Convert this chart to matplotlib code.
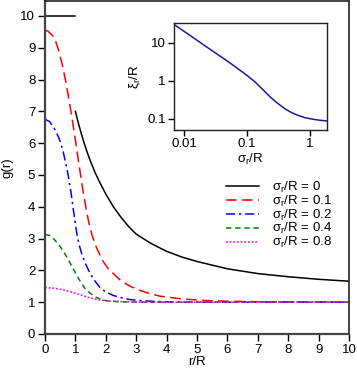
import matplotlib
matplotlib.use("Agg")
import matplotlib.pyplot as plt

plt.rcParams['font.family'] = ['Liberation Sans', 'DejaVu Sans']
plt.rcParams['mathtext.fontset'] = 'custom'
plt.rcParams['mathtext.rm'] = 'Liberation Sans'
plt.rcParams['mathtext.it'] = 'Liberation Sans'
FS = 9.5
plt.rcParams['font.size'] = FS

# ---- main panel data: g(r) vs r/R ----
r_s0_inner = [0.0, 1.0]
g_s0_inner = [10.0, 10.0]
r_s0 = [1.0, 1.1, 1.2, 1.3, 1.4, 1.5, 1.65, 1.8, 2.0, 2.25, 2.5, 2.75, 3.0, 3.5, 4.0, 4.5, 5.0, 6.0, 7.0, 8.0, 9.0, 10.0]
g_s0 = [7.0, 6.62, 6.28, 5.97, 5.68, 5.42, 5.07, 4.77, 4.40, 4.00, 3.67, 3.38, 3.14, 2.84, 2.60, 2.42, 2.28, 2.05, 1.90, 1.80, 1.72, 1.66]

r_s01 = [0.0, 0.1, 0.25, 0.35, 0.44, 0.58, 0.69, 0.8, 0.9, 1.0, 1.13, 1.25, 1.35, 1.43, 1.55, 1.7, 1.9, 2.08, 2.47, 2.8, 3.13, 3.45, 3.78, 4.44, 5.1, 6.0, 7.0, 8.0, 10.0]
g_s01 = [9.55, 9.52, 9.38, 9.2, 8.95, 8.42, 7.9, 7.3, 6.72, 6.1, 5.25, 4.5, 3.95, 3.55, 3.1, 2.7, 2.3, 2.05, 1.70, 1.50, 1.37, 1.27, 1.19, 1.11, 1.06, 1.03, 1.015, 1.01, 1.0]

r_s02 = [0.0, 0.15, 0.33, 0.45, 0.52, 0.6, 0.66, 0.72, 0.77, 0.86, 0.93, 1.0, 1.06, 1.13, 1.21, 1.32, 1.43, 1.6, 1.81, 2.0, 2.25, 2.47, 2.75, 3.0, 3.5, 4.0, 5.0, 10.0]
g_s02 = [6.75, 6.68, 6.42, 6.18, 6.0, 5.72, 5.47, 5.2, 4.95, 4.42, 3.93, 3.45, 3.08, 2.78, 2.52, 2.23, 2.01, 1.72, 1.46, 1.32, 1.21, 1.15, 1.09, 1.06, 1.03, 1.01, 1.0, 1.0]

r_s04 = [0.0, 0.15, 0.3, 0.5, 0.7, 0.9, 1.1, 1.3, 1.5, 1.65, 1.8, 2.0, 2.2, 2.6, 3.2, 10.0]
g_s04 = [3.13, 3.1, 2.98, 2.75, 2.45, 2.1, 1.75, 1.45, 1.27, 1.17, 1.1, 1.05, 1.03, 1.01, 1.0, 1.0]

r_s08 = [0.0, 0.3, 0.6, 0.9, 1.2, 1.5, 1.8, 2.2, 2.8, 3.5, 10.0]
g_s08 = [1.46, 1.44, 1.39, 1.31, 1.22, 1.13, 1.07, 1.03, 1.01, 1.0, 1.0]

labels = ['σ$_\\mathrm{r}$/R = 0', 'σ$_\\mathrm{r}$/R = 0.1', 'σ$_\\mathrm{r}$/R = 0.2',
          'σ$_\\mathrm{r}$/R = 0.4', 'σ$_\\mathrm{r}$/R = 0.8']

# ---- inset data: xi_r/R vs sigma_r/R ----
sigma_in = [0.0069, 0.0124, 0.0259, 0.0537, 0.0989, 0.13, 0.161, 0.195, 0.232, 0.28, 0.334, 0.40, 0.482, 0.58, 0.694, 0.83, 1.0, 1.2, 1.44, 1.88]
xi_in = [30.5, 15.7, 6.76, 2.96, 1.41, 0.98, 0.697, 0.51, 0.381, 0.29, 0.231, 0.185, 0.154, 0.133, 0.119, 0.108, 0.101, 0.096, 0.092, 0.088]

W, H = 357, 374
fig = plt.figure(figsize=(W / 100, H / 100), dpi=100)
ax = fig.add_axes([45 / W, 1 - 334 / H, (349 - 45) / W, (334 - 1) / H])

ax.plot(r_s0_inner, g_s0_inner, color='black', lw=1.1)
ax.plot(r_s0, g_s0, color='black', lw=1.1, label=labels[0])
ax.plot(r_s01, g_s01, color='red', lw=1.1, dashes=(7, 3.5), label=labels[1])
ax.plot(r_s02, g_s02, color='blue', lw=1.1, dashes=(6, 2.5, 1.5, 2.5), label=labels[2])
ax.plot(r_s04, g_s04, color='green', lw=1.1, dashes=(3.5, 2.5), label=labels[3])
ax.plot(r_s08, g_s08, color='magenta', lw=1.1, dashes=(1.2, 1.2), label=labels[4])

ax.set_xlim(0, 10)
ax.set_ylim(0, 10.47)
ax.set_xticks(range(0, 11))
ax.set_yticks(range(0, 11))
ax.set_xlabel('r/R', labelpad=0)
ax.set_ylabel('g(r)', labelpad=5)
ax.tick_params(direction='out', length=5, width=1, pad=2, labelsize=FS)
for s in ['left', 'bottom']:
    ax.spines[s].set_color('#444444')
    ax.spines[s].set_linewidth(1.6)
for s in ['top', 'right']:
    ax.spines[s].set_color('#222222')
    ax.spines[s].set_linewidth(1.2)

leg = ax.legend(loc='upper left', bbox_to_anchor=(226 / W, 1 - 180 / H),
                bbox_transform=fig.transFigure, frameon=False, borderpad=0,
                borderaxespad=0, handlelength=2.5, handletextpad=1.0,
                labelspacing=-0.1, fontsize=FS)

axi = fig.add_axes([174 / W, 1 - 130 / H, (327.3 - 174) / W, (130 - 23.3) / H])
axi.plot(sigma_in, xi_in, color='#1a1a9a', lw=1.1)
axi.set_xscale('log')
axi.set_yscale('log')
axi.set_xlim(0.0069, 1.89)
axi.set_ylim(0.051, 32.7)
axi.set_xticks([0.01, 0.1, 1])
axi.set_xticklabels(['0.01', '0.1', '1'])
axi.set_yticks([0.1, 1, 10])
axi.set_yticklabels(['0.1', '1', '10'])
axi.minorticks_off()
axi.tick_params(direction='out', length=4, width=1, pad=2, labelsize=FS)
axi.set_xlabel('σ$_\\mathrm{r}$/R', labelpad=1)
axi.set_ylabel('ξ$_\\mathrm{r}$/R', labelpad=3)
for s in axi.spines.values():
    s.set_color('#222222')
    s.set_linewidth(1.0)

fig.savefig('out.png', dpi=100)
